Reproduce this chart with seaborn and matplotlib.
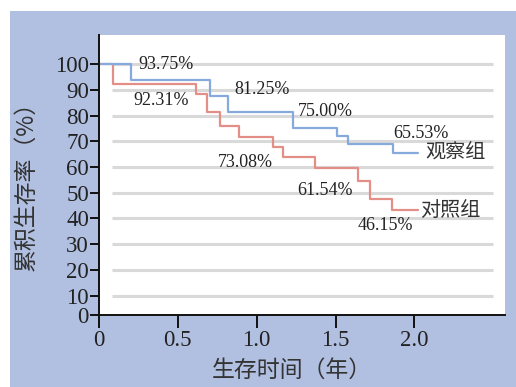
import numpy as np
import pandas as pd
import matplotlib
matplotlib.use("Agg")
import matplotlib.pyplot as plt
from matplotlib.patches import Rectangle
import seaborn as sns

# ---------------- data ----------------
groups = ["对照组", "观察组"]
obs_time = [0, 0.201, 0.704, 0.816, 1.228, 1.507, 1.581, 1.862, 2.023]
obs_surv = [100, 93.75, 87.5, 81.25, 75.0, 72.2, 68.8, 65.53, 65.53]
ctl_time = [0, 0.091, 0.613, 0.687, 0.767, 0.891, 1.105, 1.170, 1.370, 1.644, 1.718, 1.856, 2.025]
ctl_surv = [100, 92.31, 88.2, 81.2, 76.0, 71.8, 67.9, 63.8, 59.7, 54.7, 47.6, 43.3, 43.3]
x_ticks = [0, 0.5, 1.0, 1.5, 2.0]
x_tick_labels = ["0", "0.5", "1.0", "1.5", "2.0"]
y_tick_labels = ["0", "10", "20", "30", "40", "50", "60", "70", "80", "90", "100"]
pct_labels = ["93.75%", "92.31%", "81.25%", "75.00%", "65.53%", "73.08%", "61.54%", "46.15%"]
x_title = "生存时间（年）"
y_title = "累积生存率（%）"

# ---------------- layout ----------------
pct_pos = [(0.247, 100.0), (0.216, 86.0), (0.856, 90.2), (1.262, 81.5),
           (1.864, 73.2), (0.755, 61.8), (1.256, 51.0), (1.642, 37.1)]
group_pos = {"观察组": (2.067, 65.9), "对照组": (2.035, 43.3)}
y_tick_pos = [2.5, 10, 20, 30, 40, 50, 60, 70, 80, 90, 100]

colors = {"观察组": "#86aadc", "对照组": "#e38f87"}
panel_color = "#b1bfe1"
grid_color = "#d9d9d9"

df = pd.concat([
    pd.DataFrame({"time": ctl_time, "surv": ctl_surv, "group": "对照组"}),
    pd.DataFrame({"time": obs_time, "surv": obs_surv, "group": "观察组"}),
], ignore_index=True)

sns.set_style("white")
plt.rcParams["font.family"] = ["Liberation Serif", "Noto Sans CJK SC", "DejaVu Sans"]

W, H = 516, 387
fig = plt.figure(figsize=(W / 100, H / 100), dpi=100, facecolor="white")
panel = Rectangle((10 / W, 0), 1 - 10 / W, (H - 11) / H,
                  transform=fig.transFigure, facecolor=panel_color,
                  edgecolor="none", zorder=-10)
fig.patches.append(panel)
ax = fig.add_axes([99 / W, (H - 315) / H, (505 - 99) / W, (315 - 35) / H])
ax.set_zorder(5)
ax.set_facecolor("white")

ax.hlines([10, 20, 30, 40, 50, 60, 70, 80, 90, 100], 0.08, 2.5,
          color=grid_color, lw=2.2, zorder=0)

sns.lineplot(data=df, x="time", y="surv", hue="group", hue_order=groups,
             palette=colors, drawstyle="steps-post", estimator=None, sort=False,
             legend=False, linewidth=1.6, ax=ax)

ax.set_xlim(0, 2.575)
ax.set_ylim(2.5, 111.3)
ax.set_xticks(x_ticks)
ax.set_xticklabels(x_tick_labels)
ax.set_yticks(y_tick_pos)
ax.set_yticklabels(y_tick_labels)

for s in ["top", "right"]:
    ax.spines[s].set_visible(False)
for s in ["left", "bottom"]:
    ax.spines[s].set_color("#111111")
    ax.spines[s].set_linewidth(1.4)

ax.tick_params(axis="x", length=9, width=1.4, color="#111111", labelsize=16.5,
               labelcolor="#222222", pad=2, direction="out", bottom=True)
ax.tick_params(axis="y", length=6.2, width=1.4, color="#111111", labelsize=16.5,
               labelcolor="#222222", pad=1, direction="out", left=True)

ax.set_xlabel(x_title, fontsize=16.5, color="#333333",
              family=["Noto Sans CJK SC", "DejaVu Sans"])
ax.set_ylabel(y_title, fontsize=16.5, color="#333333",
              family=["Noto Sans CJK SC", "DejaVu Sans"])
ax.xaxis.set_label_coords(0.475, -0.158)
ax.yaxis.set_label_coords(-0.150, 0.482)

for txt, (px, py) in zip(pct_labels, pct_pos):
    ax.text(px, py, txt, fontsize=13, color="#222222", ha="left", va="center",
            family=["Liberation Serif", "DejaVu Serif"])
for g, (px, py) in group_pos.items():
    ax.text(px, py, g, fontsize=14.5, color="#333333", ha="left", va="center",
            family=["Noto Sans CJK SC", "DejaVu Sans"])

fig.savefig("out.png", dpi=100, facecolor="white")
